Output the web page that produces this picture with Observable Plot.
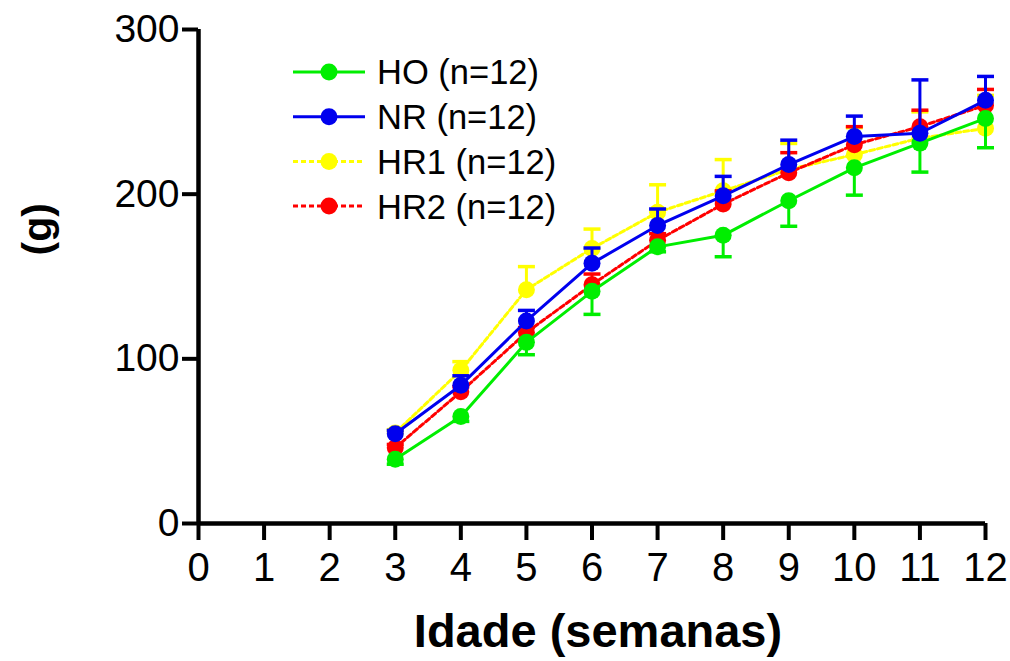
<!DOCTYPE html>
<html><head><meta charset="utf-8">
<script src="https://cdn.jsdelivr.net/npm/d3@7"></script>
<script src="https://cdn.jsdelivr.net/npm/@observablehq/plot@0.6"></script>
<style>
html,body{margin:0;padding:0;background:#fff;}
#chart{position:relative;width:1010px;height:661px;font-family:"Liberation Sans",Arial,sans-serif;}
#legend{position:absolute;left:0;top:0;}
</style></head><body><div id="chart"></div>
<script>
// ---- data ----
const weeks = [3, 4, 5, 6, 7, 8, 9, 10, 11, 12];
const xTicks = [0, 1, 2, 3, 4, 5, 6, 7, 8, 9, 10, 11, 12];
const yTicks = [0, 100, 200, 300];
const groups = ["HO", "NR", "HR1", "HR2"];
const legendLabels = ["HO (n=12)", "NR (n=12)", "HR1 (n=12)", "HR2 (n=12)"];
const hoMean  = [39, 65, 110, 141, 168, 175, 196, 216, 231, 246];
const hoSem   = [3, 3, 7.5, 14, 3, 13, 15.5, 16.6, 17.6, 17.8];
const nrMean  = [54.5, 84, 123, 158, 181, 199, 218, 235, 237, 257];
const nrSem   = [2, 5.7, 6.4, 9.3, 10, 11.8, 14.8, 12.4, 32.4, 14.5];
const hr1Mean = [55, 93, 142, 167, 189, 202, 215, 224, 234, 240];
const hr1Sem  = [2, 5.3, 14, 11.8, 16.7, 19, 15.8, 16.4, 16, 20];
const hr2Mean = [46, 80, 116, 145, 172, 194, 213, 230, 241, 254];
const hr2Sem  = [2, 3, 3, 6.5, 4, 8, 12.2, 11, 10, 9.6];
const xLabel = "Idade (semanas)";
const yLabel = "(g)";

const colors = {HO: "#00ee00", NR: "#0000ee", HR1: "#ffff00", HR2: "#ff0000"};
const dashes = {HO: null, NR: null, HR1: "5,3", HR2: "5,3"};
const errDir = {HO: -1, NR: 1, HR1: 1, HR2: 1};
const means = {HO: hoMean, NR: nrMean, HR1: hr1Mean, HR2: hr2Mean};
const sems = {HO: hoSem, NR: nrSem, HR1: hr1Sem, HR2: hr2Sem};

const rows = groups.flatMap(g => weeks.map((w, i) => ({
  group: g, week: w, mean: means[g][i], sem: sems[g][i],
  end: means[g][i] + errDir[g] * sems[g][i]
})));

const capSymbol = {draw(ctx, size) { const w = Math.sqrt(size / Math.PI); ctx.moveTo(-w, 0); ctx.lineTo(w, 0); }};

const drawOrder = ["HR1", "HR2", "HO", "NR"];
const seriesMarks = drawOrder.flatMap(g => {
  const d = rows.filter(r => r.group === g);
  const c = colors[g];
  return [
    Plot.ruleX(d, {x: "week", y1: "mean", y2: "end", stroke: c, strokeWidth: 3}),
    Plot.dot(d, {x: "week", y: "end", symbol: capSymbol, r: 8.5, stroke: c, strokeWidth: 3.5, fill: "none"}),
    Plot.line(d, {x: "week", y: "mean", stroke: c, strokeWidth: 3, strokeDasharray: dashes[g]}),
    Plot.dot(d, {x: "week", y: "mean", r: 8.5, fill: c, stroke: "none"})
  ];
});

const chart = Plot.plot({
  width: 1010, height: 661,
  marginLeft: 198, marginRight: 25, marginTop: 29, marginBottom: 138,
  style: {fontFamily: "'Liberation Sans', Arial, sans-serif", color: "#000", background: "#fff"},
  x: {domain: [0, 12]},
  y: {domain: [0, 300]},
  marks: [
    ...seriesMarks,
    Plot.ruleX([0], {stroke: "#000", strokeWidth: 4.5}),
    Plot.ruleY([0], {stroke: "#000", strokeWidth: 4.5}),
    Plot.axisY({ticks: yTicks, tickSize: 16, tickPadding: 3, fontSize: 39, strokeWidth: 4, label: null, tickFormat: d => String(d)}),
    Plot.axisX({ticks: xTicks, tickSize: 17, tickPadding: 12, fontSize: 40, strokeWidth: 4, label: null, tickFormat: d => String(d),
      fontFamily: "'Liberation Sans Narrow', 'Liberation Sans', Arial, sans-serif"}),
    Plot.text([xLabel], {text: d => d, frameAnchor: "bottom", dy: 123, dx: 6, fontSize: 47, fontWeight: "bold", fill: "#000"}),
    Plot.text([yLabel], {text: d => d, frameAnchor: "left", dx: -161, dy: -21, rotate: -90, fontSize: 41, fontWeight: "bold", fill: "#000"})
  ]
});
const host = document.getElementById("chart");
host.appendChild(chart);

// ---- legend overlay ----
const lg = d3.select(host).append("svg").attr("id", "legend").attr("width", 1010).attr("height", 661);
const legendItems = groups.map((g, i) => ({g, label: legendLabels[i], i}));
const item = lg.selectAll("g").data(legendItems).join("g")
  .attr("transform", d => `translate(0,${72 + d.i * 44.7})`);
item.append("line").attr("x1", 293).attr("x2", 365).attr("y1", 0).attr("y2", 0)
  .attr("stroke", d => colors[d.g]).attr("stroke-width", 3)
  .attr("stroke-dasharray", d => dashes[d.g]);
item.append("circle").attr("cx", 329).attr("cy", 0).attr("r", 8.5).attr("fill", d => colors[d.g]);
item.append("text").attr("x", 377).attr("y", 0).attr("dy", "0.36em")
  .attr("font-size", 34.5).attr("font-family", "'Liberation Sans', Arial, sans-serif").attr("fill", "#000")
  .text(d => d.label);
</script></body></html>
